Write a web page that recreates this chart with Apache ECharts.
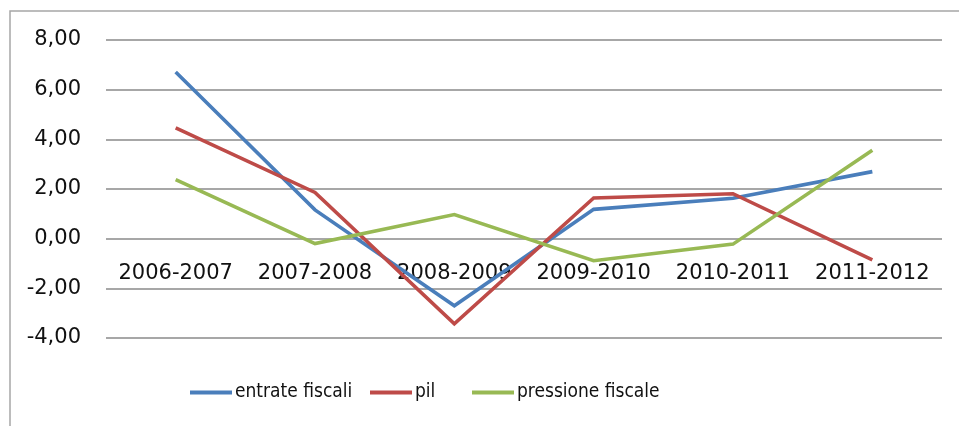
<!DOCTYPE html>
<html>
<head>
<meta charset="utf-8">
<script src="https://cdn.jsdelivr.net/npm/echarts@6/dist/echarts.min.js"></script>
<style>
  html, body { margin: 0; padding: 0; background: #ffffff; }
  #chart { width: 959px; height: 426px; }
</style>
</head>
<body>
<div id="chart"></div>
<script>
// Year-on-year changes (%)
const periods = ['2006-2007', '2007-2008', '2008-2009', '2009-2010', '2010-2011', '2011-2012'];
const entrateFiscali = [6.71, 1.16, -2.70, 1.18, 1.63, 2.70];
const pil = [4.46, 1.86, -3.43, 1.64, 1.81, -0.85];
const pressioneFiscale = [2.38, -0.20, 0.97, -0.89, -0.22, 3.56];
const seriesNames = ['entrate fiscali', 'pil', 'pressione fiscale'];
const yTicks = { min: -4, max: 8, step: 2 };

const chart = echarts.init(document.getElementById('chart'), null, { renderer: 'canvas' });

const labelFont = 'DejaVu Sans';
const legendFont = '"Liberation Sans Narrow", "DejaVu Sans Condensed", sans-serif';

// grid geometry, used to put the category labels just under the zero line
const gridTop = 40;
const gridBottom = 88;
const plotHeight = 426 - gridTop - gridBottom;
const zeroOffset = plotHeight * (0 - yTicks.min) / (yTicks.max - yTicks.min);

function lineSeries(name, data, color) {
  return {
    name: name,
    type: 'line',
    data: data,
    showSymbol: false,
    symbol: 'none',
    lineStyle: { color: color, width: 3.6, join: 'miter' },
    itemStyle: { color: color },
    animation: false
  };
}

// one legend block per entry so each key sits at its own spot on the row
const legendLefts = [190, 370, 472];
const legends = seriesNames.map((name, i) => ({
  left: legendLefts[i],
  top: 383,
  padding: 0,
  icon: 'rect',
  itemWidth: 42,
  itemHeight: 4,
  textStyle: { fontFamily: legendFont, fontSize: 19, color: '#111', padding: [0, 0, 0, -2] },
  data: [name]
}));

chart.setOption({
  backgroundColor: '#ffffff',
  animation: false,
  graphic: [{
    type: 'rect',
    shape: { x: 10, y: 11, width: 970, height: 440 },
    style: { fill: 'none', stroke: '#a6a6a6', lineWidth: 1.5 },
    silent: true,
    z: -1
  }],
  grid: { left: 106, right: 17, top: gridTop, bottom: gridBottom, containLabel: false },
  legend: legends,
  xAxis: {
    type: 'category',
    data: periods,
    boundaryGap: true,
    offset: -zeroOffset,
    axisLine: { show: false, onZero: false },
    axisTick: { show: false },
    axisLabel: {
      fontFamily: labelFont, fontSize: 21, color: '#111', margin: 24, interval: 0
    },
    splitLine: { show: false }
  },
  yAxis: {
    type: 'value',
    min: yTicks.min,
    max: yTicks.max,
    interval: yTicks.step,
    axisLine: { show: false },
    axisTick: { show: false },
    axisLabel: {
      fontFamily: labelFont, fontSize: 21, color: '#111', margin: 25,
      formatter: v => v.toFixed(2).replace('.', ',')
    },
    splitLine: { lineStyle: { color: '#8a8a8a', width: 1.5 } }
  },
  series: [
    lineSeries(seriesNames[0], entrateFiscali, '#4a7ebb'),
    lineSeries(seriesNames[1], pil, '#be4b48'),
    lineSeries(seriesNames[2], pressioneFiscale, '#98b954')
  ]
});
</script>
</body>
</html>
